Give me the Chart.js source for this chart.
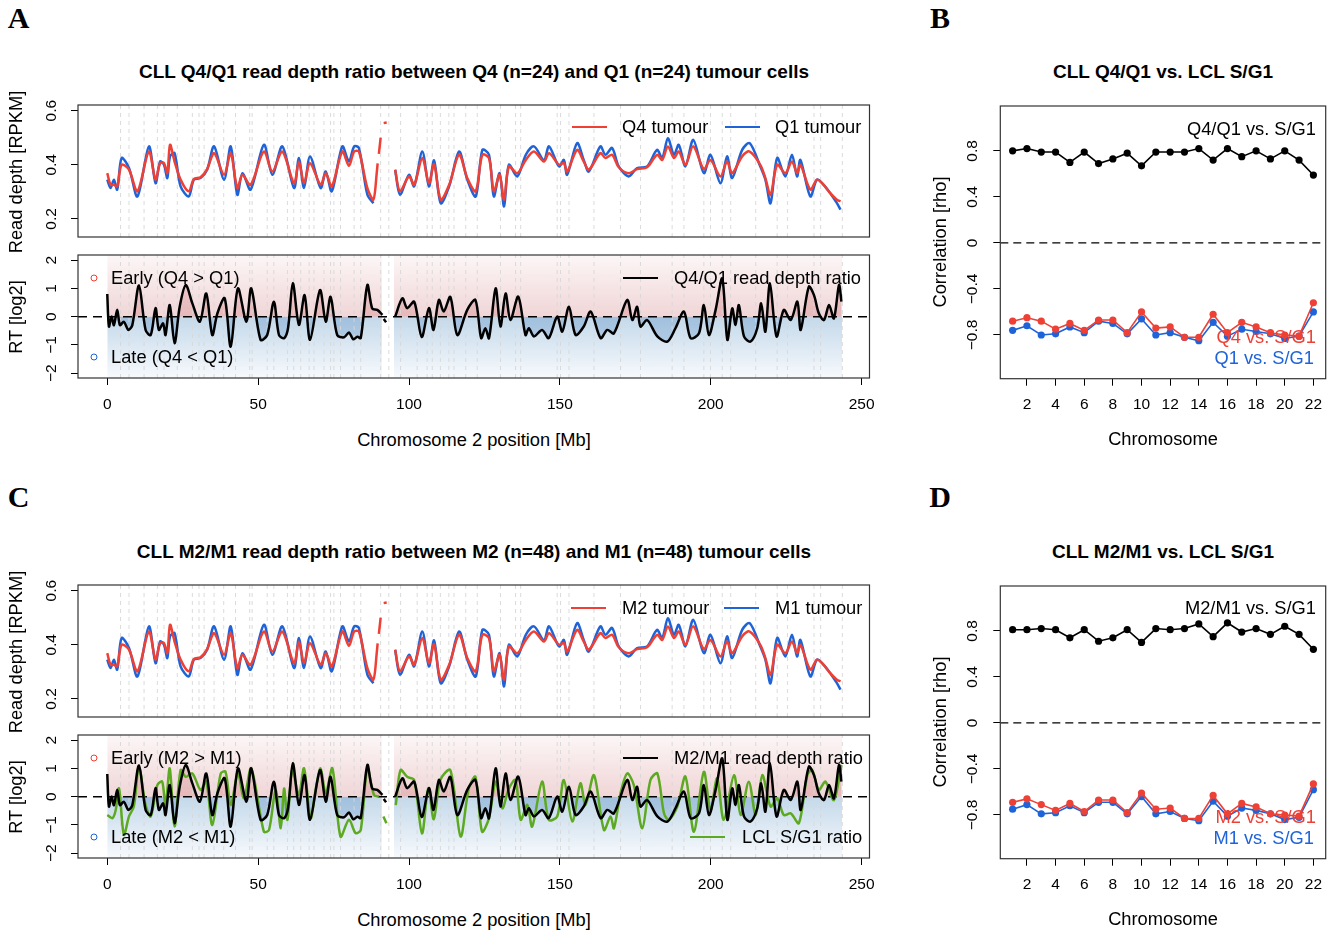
<!DOCTYPE html>
<html><head><meta charset="utf-8">
<script src="https://cdn.jsdelivr.net/npm/chart.js@4.4.1/dist/chart.umd.min.js"></script>
<style>
html,body{margin:0;padding:0;background:#fff;}
#wrap{position:relative;width:1337px;height:934px;overflow:hidden;font-family:"Liberation Sans",Arial,Helvetica,sans-serif;color:#000;}
canvas{position:absolute;}
.tx{position:absolute;white-space:nowrap;line-height:1;z-index:5;}
.c{transform:translate(-50%,-50%);}
.l{transform:translate(0,-50%);}
.r{transform:translate(-100%,-50%);}
.v{transform:translate(-50%,-50%) rotate(-90deg);}
.lab{font-size:18.3px;}
.ttl{font-size:19px;font-weight:bold;}
.pl{font-family:"Liberation Serif","Times New Roman",serif;font-weight:bold;font-size:30px;}
.seg{position:absolute;height:0;border-top:2.5px solid;transform:translate(0,-50%);z-index:5;}
.dot{position:absolute;width:5px;height:5px;border:1.3px solid;border-radius:50%;transform:translate(-50%,-50%);z-index:5;}
</style></head>
<body><div id="wrap">
<div class="tx c pl" style="left:18.5px;top:18px">A</div>
<div class="tx c pl" style="left:940px;top:18px">B</div>
<div class="tx c pl" style="left:18.5px;top:497px">C</div>
<div class="tx c pl" style="left:940px;top:497px">D</div>

<div class="tx c ttl" style="left:474px;top:71px">CLL Q4/Q1 read depth ratio between Q4 (n=24) and Q1 (n=24) tumour cells</div>
<div class="tx c ttl" style="left:1163px;top:71px">CLL Q4/Q1 vs. LCL S/G1</div>
<div class="tx c ttl" style="left:474px;top:551px">CLL M2/M1 read depth ratio between M2 (n=48) and M1 (n=48) tumour cells</div>
<div class="tx c ttl" style="left:1163px;top:551px">CLL M2/M1 vs. LCL S/G1</div>

<div class="tx v lab" style="left:16px;top:172px">Read depth [RPKM]</div>
<div class="tx v lab" style="left:16px;top:317px">RT [log2]</div>
<div class="tx c lab" style="left:474px;top:440px">Chromosome 2 position [Mb]</div>
<div class="tx v lab" style="left:940px;top:242px">Correlation [rho]</div>
<div class="tx c lab" style="left:1163px;top:439px">Chromosome</div>

<div class="tx v lab" style="left:16px;top:652px">Read depth [RPKM]</div>
<div class="tx v lab" style="left:16px;top:797px">RT [log2]</div>
<div class="tx c lab" style="left:474px;top:920px">Chromosome 2 position [Mb]</div>
<div class="tx v lab" style="left:940px;top:722px">Correlation [rho]</div>
<div class="tx c lab" style="left:1163px;top:919px">Chromosome</div>

<!-- legends A -->
<div class="seg" style="left:572px;top:127px;width:35px;border-color:#EE4035"></div>
<div class="tx l lab" style="left:622px;top:127px">Q4 tumour</div>
<div class="seg" style="left:725px;top:127px;width:35px;border-color:#1F63D9"></div>
<div class="tx l lab" style="left:775px;top:127px">Q1 tumour</div>
<div class="dot" style="left:94px;top:277.5px;border-color:#EE4035"></div>
<div class="tx l lab" style="left:111px;top:277.5px">Early (Q4 &gt; Q1)</div>
<div class="dot" style="left:94px;top:357px;border-color:#1F63D9"></div>
<div class="tx l lab" style="left:111px;top:357px">Late (Q4 &lt; Q1)</div>
<div class="seg" style="left:623px;top:277.5px;width:35px;border-color:#000"></div>
<div class="tx l lab" style="left:674px;top:277.5px">Q4/Q1 read depth ratio</div>
<!-- legends B -->
<div class="tx r lab" style="left:1316px;top:129px">Q4/Q1 vs. S/G1</div>
<div class="tx r lab" style="left:1316px;top:337px;color:#EE4035">Q4 vs. S/G1</div>
<div class="tx r lab" style="left:1314px;top:358px;color:#1F63D9">Q1 vs. S/G1</div>
<!-- legends C -->
<div class="seg" style="left:571px;top:608px;width:35px;border-color:#EE4035"></div>
<div class="tx l lab" style="left:622px;top:608px">M2 tumour</div>
<div class="seg" style="left:724px;top:608px;width:35px;border-color:#1F63D9"></div>
<div class="tx l lab" style="left:775px;top:608px">M1 tumour</div>
<div class="dot" style="left:94px;top:757.5px;border-color:#EE4035"></div>
<div class="tx l lab" style="left:111px;top:757.5px">Early (M2 &gt; M1)</div>
<div class="dot" style="left:94px;top:837px;border-color:#1F63D9"></div>
<div class="tx l lab" style="left:111px;top:837px">Late (M2 &lt; M1)</div>
<div class="seg" style="left:623px;top:757.5px;width:35px;border-color:#000"></div>
<div class="tx l lab" style="left:674px;top:757.5px">M2/M1 read depth ratio</div>
<div class="seg" style="left:690px;top:837px;width:35px;border-color:#5DAA22"></div>
<div class="tx l lab" style="left:742px;top:837px">LCL S/G1 ratio</div>
<!-- legends D -->
<div class="tx r lab" style="left:1316px;top:608px">M2/M1 vs. S/G1</div>
<div class="tx r lab" style="left:1316px;top:817px;color:#EE4035">M2 vs. S/G1</div>
<div class="tx r lab" style="left:1314px;top:838px;color:#1F63D9">M1 vs. S/G1</div>
</div>
<script>
// ---------------- DATA ----------------
// Chromosome 2 positions (Mb) for read-depth traces
const depthPos = [0,1.1,2.2,3.3,4.75,7.2,10,13.8,16,17.5,18.8,19.9,20.8,22.3,24.3,27,28.7,30.9,33.1,35.4,38.7,40.9,43.1,44.8,47.5,51.9,54.7,58,61.9,63.5,65.2,67.2,70.7,72.4,74.4,77.9,80.1,81.8,83.4,86.2,88.2,89.3,89.6,89.8,90.0,90.6,91.0,91.6,92.6,94.0,
  95.4,97,100,101.7,104.4,106.6,108.3,110.5,113.3,116.6,119.3,122.1,124.3,126.5,128.1,130,131.5,133.1,135.9,138.7,141.4,144.7,146.4,149.7,151.3,152.4,155.7,157.9,159.6,163.4,165.1,167.3,169.5,172.8,175.6,178.9,182.2,183.9,185.8,187.8,189.4,191.6,194.2,197.7,199.9,203.2,205.4,207.1,210.4,212.9,216.4,218.1,219.8,222,224.7,226.9,228.6,229.7,233,235.2,237.4,239.6,241.8,243];
const q4Depth = [.369,.326,.326,.320,.400,.382,.302,.449,.345,.406,.406,.369,.474,.412,.345,.302,.347,.354,.384,.443,.363,.443,.314,.363,.326,.449,.375,.449,.332,.412,.332,.406,.326,.369,.320,.449,.396,.449,.449,.314,.271,.370,.405,null,.440,.500,null,.554,.556,null,
  .382,.302,.357,.326,.425,.332,.402,.271,.326,.437,.351,.302,.437,.425,.302,.363,.271,.394,.369,.418,.449,.412,.443,.400,.406,.375,.455,.412,.382,.443,.425,.437,.391,.369,.384,.391,.437,.418,.468,.425,.449,.400,.468,.384,.418,.357,.412,.369,.431,.449,.400,.351,.289,.400,.369,.412,.369,.400,.308,.345,.326,.295,.271,.265];
const q1Depth = [.345,.314,.345,.308,.425,.388,.283,.468,.332,.412,.400,.351,.431,.443,.320,.283,.345,.351,.382,.468,.345,.468,.289,.369,.308,.474,.363,.468,.314,.425,.314,.431,.314,.375,.302,.468,.412,.468,.462,.289,.258,null,null,null,null,null,null,null,null,null,
  .382,.289,.363,.320,.449,.320,.416,.258,.320,.449,.345,.283,.455,.437,.283,.369,.246,.400,.357,.437,.468,.418,.468,.394,.418,.363,.480,.418,.375,.468,.437,.462,.394,.357,.388,.394,.455,.425,.498,.437,.474,.394,.492,.369,.437,.332,.431,.351,.455,.480,.394,.345,.258,.425,.357,.437,.357,.418,.283,.345,.326,.295,.258,.234];
// M2/M1 read-depth traces look the same as Q4/Q1 in the figure
const m2Depth = q4Depth;
const m1Depth = q1Depth;

// Smoothed RT ratio (log2)
const ratioPos = [0,0.55,1.4,2.2,3.3,4.2,5.5,7,8.3,10.5,12.7,14.4,16,17.1,18.5,19.3,20.7,22.3,24,26,28.2,30.7,32.8,34.8,36.5,38.9,40.9,43.3,46.1,47.7,50.8,53,55.2,56.9,58.6,59.9,61.5,63.5,65.4,67.2,70.5,72.4,74,76.2,78.5,80.1,81.5,82.9,84,86.2,87.8,89.5,91.2,91.4,91.6,92.4,93,
  95.4,97.8,99.4,101.7,104.2,106.6,108.1,109.9,111.5,113.7,116,119.3,122,123.9,125.3,126.5,128.7,130.3,132,133.6,136.2,138.6,139.7,141.4,144.1,146.3,149.1,150.8,153,155.2,157.9,160.2,163.5,165.7,167.9,172.3,174,175.6,176.7,178.9,182.3,185.6,188.3,191.1,193.3,196.1,197.7,199.4,201.6,203.8,205.5,207.1,208.2,209.3,211,213.2,215.4,216.7,218.1,219.6,221.8,224.2,226.5,228.7,229.8,232.5,234.2,235.8,237.5,239.2,240.8,242.5,243.3];
const ratioQ4Q1 = [0.8,-0.35,0,-0.3,0.24,-0.3,-0.18,-0.47,-0.3,1.1,-0.47,-0.65,0.3,-0.47,-0.24,-0.65,0.41,-0.94,0.35,1.12,0.47,-0.18,0.82,-0.65,0.12,0.65,-1.06,1.0,-0.18,1.0,-0.82,-0.65,0.53,-0.65,-0.76,-0.41,1.18,-0.29,0.76,-0.82,0.94,-0.18,0.7,-0.65,-0.73,-0.56,-0.8,-0.71,-0.76,1.12,0.29,0.24,0.06,null,-0.08,-0.2,null,
  0,0.65,0.3,0.53,-0.72,0.3,-0.47,0.59,0.18,0.7,-0.65,0.24,0.59,-0.76,-0.41,-0.76,1.0,-0.35,0.82,-0.12,0.71,-0.65,-0.41,-0.7,-0.47,-0.76,0,-0.53,0.35,-0.65,-0.35,0.18,-0.76,-0.47,-0.59,0.59,-0.12,0.35,-0.35,-0.12,-0.7,-0.88,-0.41,0.18,-0.76,-0.59,0.41,-0.65,0.24,1.35,-0.82,0.29,-0.29,0.41,-0.7,-0.88,-0.41,0.47,-0.53,1.18,-0.7,0.24,-0.12,0.53,-0.47,1.06,0.76,0.12,-0.12,0.41,-0.06,1.12,0.53];
const ratioM2M1 = ratioQ4Q1;

// LCL S/G1 ratio (green)
const lclPos = [0,1.7,2.8,3.9,5.5,7.2,8.8,10.5,12.7,14.4,16.6,18.2,19.3,20.7,22.3,24.3,26,28.2,30.9,32.8,34.8,37.6,39.2,40.9,43.3,45.3,47.7,51.9,53.6,55.8,57.5,58.6,59.7,61.3,63.5,65.2,67.4,69.1,70.7,72.4,74.6,77.3,80.1,82.3,84,86.2,88.4,90,91,91.5,92.5,93.5,
  95.6,97.2,99.4,101.7,104.3,106.4,108.2,110.4,113.7,117.1,119.8,122,124.2,126.5,128.7,130.9,133.1,135.3,137,139.2,140.8,144.1,146.3,149.1,151.3,154.1,156.8,158.5,161.3,164.6,166.8,167.9,170.1,172.3,174.5,177.3,180,182.3,184.5,186.1,188.9,191.6,194.4,197.7,199.9,202.1,204.3,207.7,209.9,212.6,214.9,217.1,219.8,222,224.2,226.5,229.2,232,233.6,235.8,238,240.8,243.3];
const lclRatio = [-0.65,-0.76,-0.47,0.29,-1.35,-0.7,-0.35,1.06,-0.3,-0.7,0.41,0.53,-0.35,1.0,-1.06,0.94,0.7,0.82,0.24,0.53,-1.0,0.82,0.88,-0.3,0.82,-0.06,1.0,-1.24,-1.18,0.24,-1.12,0.29,-0.82,0.94,0.06,1.0,-0.76,0.29,1.0,0.12,1.0,-1.41,-0.82,-1.29,-1.18,1.0,0.06,0,null,-0.7,-0.94,null,
  -0.3,0.94,0.7,0.59,-1.3,0.3,-0.8,0.59,0.94,-1.41,0.29,0.7,-1.24,-0.76,0.53,-0.41,0.29,0.59,-0.82,-0.29,-1.06,0.53,-0.82,-0.7,0.59,-0.88,0.47,-0.29,0.76,-1.18,-0.7,-1.12,0.12,0.82,0.41,-1.12,0.59,0.82,-0.59,-0.82,-0.35,0.71,-1.24,0.88,-0.47,0.65,-0.82,0.76,-0.65,0.53,-0.65,0.76,-0.35,-0.06,-0.65,-0.59,-0.94,0.76,0.94,0.24,0.53,-0.12,1.12];

// Extent of the per-bin RT scatter cloud (Mb spans and log2 limits)
const cloudSpans = [[0, 91], [95, 243.5]];
const cloudLimits = [2.2, -2.2];

// Light dashed vertical reference lines (Mb)
const bandLines = [4.4,7.2,12.2,16.6,18.8,23.2,28.2,30.4,32.1,35.4,38.6,42.5,47.2,48,53,55.2,59.7,61.8,64.1,66.9,68.5,71.8,74,75.1,77.3,81.8,84,90.6,93.3,97.2,102.7,106,107.7,110.4,113.2,114.9,118.8,122.6,130.3,135.3,137,149.1,150.2,153,161.3,170.1,176.7,187.2,191.1,197.7,199.9,203.8,206.6,214.9,222,225.4,234.2,236.4,243.6];

// Correlation per chromosome
const chromosomes = [1,2,3,4,5,6,7,8,9,10,11,12,13,14,15,16,17,18,19,20,21,22];
const q4q1Rho = [0.80,0.82,0.79,0.79,0.70,0.79,0.69,0.73,0.78,0.67,0.79,0.79,0.79,0.82,0.72,0.82,0.75,0.80,0.73,0.80,0.72,0.59];
const q4Rho   = [-0.68,-0.65,-0.68,-0.75,-0.70,-0.76,-0.67,-0.67,-0.78,-0.60,-0.74,-0.73,-0.82,-0.82,-0.62,-0.78,-0.69,-0.73,-0.78,-0.80,-0.81,-0.52];
const q1Rho   = [-0.76,-0.72,-0.80,-0.79,-0.73,-0.78,-0.68,-0.70,-0.79,-0.66,-0.80,-0.78,-0.82,-0.85,-0.69,-0.81,-0.75,-0.77,-0.79,-0.83,-0.81,-0.60];
const m2m1Rho = [0.81,0.81,0.82,0.81,0.74,0.81,0.71,0.74,0.81,0.70,0.82,0.81,0.82,0.86,0.75,0.87,0.79,0.82,0.77,0.84,0.77,0.64];
const m2Rho   = [-0.69,-0.66,-0.71,-0.76,-0.70,-0.77,-0.67,-0.67,-0.78,-0.61,-0.75,-0.74,-0.83,-0.83,-0.63,-0.79,-0.70,-0.73,-0.79,-0.80,-0.81,-0.53];
const m1Rho   = [-0.75,-0.71,-0.79,-0.78,-0.72,-0.78,-0.69,-0.69,-0.79,-0.64,-0.79,-0.77,-0.83,-0.85,-0.68,-0.81,-0.74,-0.76,-0.79,-0.84,-0.82,-0.58];

// ---------------- STYLE ----------------
const RED = '#EE4035', BLUE = '#1F63D9', GREEN = '#5DAA22';
Chart.defaults.font.family = "'Liberation Sans', Arial, Helvetica, sans-serif";
Chart.defaults.font.size = 15.5;
Chart.defaults.color = '#000';

const boxPlugin = { id: 'box', afterDatasetsDraw(chart) {
  const { ctx, chartArea: a } = chart;
  ctx.save(); ctx.strokeStyle = '#333'; ctx.lineWidth = 1.2;
  ctx.strokeRect(a.left, a.top, a.right - a.left, a.bottom - a.top); ctx.restore();
}};

const pts = (xs, ys) => xs.map((x, i) => ({ x, y: ys[i] }));
const minus = v => (v < 0 ? '\u2212' : '');
function vlines(lo, hi) {
  const d = [];
  bandLines.forEach(x => { d.push({ x, y: lo }, { x, y: hi }, { x, y: null }); });
  return d;
}
function gridDs(lo, hi) {
  return { data: vlines(lo, hi), borderColor: 'rgba(215,215,215,0.9)', borderWidth: 1, borderDash: [4, 4], pointRadius: 0, tension: 0, spanGaps: false, fill: false };
}
function hline(xmin, xmax, w, dash) {
  return { data: [{ x: xmin, y: 0 }, { x: xmax, y: 0 }], borderColor: '#000', borderWidth: w, borderDash: dash, pointRadius: 0, tension: 0, fill: false };
}
function cloudDs(limit, rgb, a0, a1, a2) {
  const d = [];
  cloudSpans.forEach(([a, b]) => { d.push({ x: a, y: limit }, { x: b, y: limit }, { x: b, y: null }); });
  return { data: d, borderWidth: 0, pointRadius: 0, tension: 0, spanGaps: false, fill: 'origin',
    backgroundColor: (ctx) => {
      const ch = ctx.chart; if (!ch.chartArea) return 'rgba(' + rgb + ',0.08)';
      const y = ch.scales.y;
      const g = ch.ctx.createLinearGradient(0, y.getPixelForValue(0), 0, y.getPixelForValue(limit));
      g.addColorStop(0, 'rgba(' + rgb + ',' + a0 + ')');
      g.addColorStop(0.55, 'rgba(' + rgb + ',' + a1 + ')');
      g.addColorStop(1, 'rgba(' + rgb + ',' + a2 + ')');
      return g;
    } };
}
function lineDs(xs, ys, color, w) {
  return { data: pts(xs, ys), borderColor: color, borderWidth: w, pointRadius: 0, tension: 0.3, spanGaps: false, fill: false };
}

function mk(box, area, xh, datasets, scales) {
  const cv = document.createElement('canvas');
  cv.width = box.w; cv.height = box.h;
  cv.style.left = box.l + 'px'; cv.style.top = box.t + 'px';
  document.getElementById('wrap').appendChild(cv);
  const yw = area.l - box.l, pr = box.l + box.w - area.r, pt = area.t - box.t, pb = box.t + box.h - area.b - xh;
  scales.y.afterFit = s => { s.width = yw; s.paddingTop = 0; s.paddingBottom = 0; };
  scales.x.afterFit = s => { s.height = xh; s.paddingLeft = 0; s.paddingRight = 0; };
  return new Chart(cv, { type: 'line', data: { datasets },
    options: { responsive: false, animation: false, devicePixelRatio: 1,
      layout: { padding: { left: 0, right: pr, top: pt, bottom: pb } },
      scales, elements: { point: { radius: 0 } },
      plugins: { legend: { display: false }, tooltip: { enabled: false }, filler: { drawTime: 'beforeDatasetsDraw' } } },
    plugins: [boxPlugin] });
}

const XMIN = -9.7, XMAX = 252.6;
const tickGrid = { drawOnChartArea: false, tickLength: 7, tickColor: '#000', tickWidth: 1 };
function yRot(pad) { return { minRotation: 90, maxRotation: 90, crossAlign: 'center', padding: pad, autoSkip: false, includeBounds: false }; }

function depthChart(top, red, blue) {
  const lo = 0.133, hi = 0.621;
  mk({ l: 0, t: top - 13, w: 880, h: 150 }, { l: 78, t: top, r: 869.5, b: top + 132 }, 0,
    [ lineDs(depthPos, red, RED, 2.5), lineDs(depthPos, blue, BLUE, 2.5), gridDs(lo, hi) ],
    { x: { type: 'linear', min: XMIN, max: XMAX, display: false },
      y: { type: 'linear', min: lo, max: hi, grid: tickGrid, border: { display: false },
           ticks: Object.assign(yRot(9), { stepSize: 0.2, callback: v => v.toFixed(1) }) } });
}
function rtChart(top, ratio, extra) {
  const lo = -2.17, hi = 2.18;
  const ds = [ lineDs(ratioPos, ratio, '#000', 2.5) ];
  if (extra) ds.push(lineDs(lclPos, extra, GREEN, 2.5));
  ds.push(hline(XMIN, XMAX, 1.5, [9, 6]), gridDs(lo, hi),
    Object.assign(lineDs(ratioPos, ratio, 'rgba(0,0,0,0)', 0), { fill: { target: 'origin', above: 'rgba(195,80,85,0.22)', below: 'rgba(60,125,185,0.26)' } }),
    cloudDs(cloudLimits[0], '200,95,100', 0.26, 0.15, 0.05), cloudDs(cloudLimits[1], '70,135,190', 0.32, 0.17, 0.04));
  mk({ l: 0, t: top - 10, w: 880, h: 180 }, { l: 78, t: top, r: 869.5, b: top + 123 }, 45, ds,
    { x: { type: 'linear', min: XMIN, max: XMAX, grid: tickGrid, border: { display: false },
           ticks: { stepSize: 50, includeBounds: false, autoSkip: false, maxRotation: 0, padding: 10 } },
      y: { type: 'linear', min: lo, max: hi, grid: tickGrid, border: { display: false },
           ticks: Object.assign(yRot(10), { stepSize: 1, callback: v => minus(v) + Math.abs(v) }) } });
}
function corrChart(top, blk, red, blue) {
  const ptDs = (ys, c) => ({ data: pts(chromosomes, ys), borderColor: c, backgroundColor: c, borderWidth: 1.6, pointRadius: 3.6, pointBorderWidth: 0, pointBackgroundColor: c, tension: 0, fill: false });
  mk({ l: 930, t: top - 11, w: 400, h: 370 }, { l: 1000.3, t: top, r: 1325.7, b: top + 272.7 }, 45,
    [ ptDs(blk, '#000'), ptDs(red, RED), ptDs(blue, BLUE), hline(0.14, 22.86, 1.2, [8, 5]) ],
    { x: { type: 'linear', min: 0.14, max: 22.86, grid: tickGrid, border: { display: false },
           ticks: { stepSize: 2, includeBounds: false, autoSkip: false, maxRotation: 0, padding: 10 } },
      y: { type: 'linear', min: -1.18, max: 1.19, grid: tickGrid, border: { display: false },
           ticks: Object.assign(yRot(5), { stepSize: 0.4, callback: v => (Math.abs(v) < 1e-9 ? '0' : minus(v) + Math.abs(v).toFixed(1)) }) } });
}

depthChart(105, q4Depth, q1Depth);
rtChart(255, ratioQ4Q1, null);
corrChart(106, q4q1Rho, q4Rho, q1Rho);
depthChart(585, m2Depth, m1Depth);
rtChart(735, ratioM2M1, lclRatio);
corrChart(586, m2m1Rho, m2Rho, m1Rho);
</script>
</body></html>
